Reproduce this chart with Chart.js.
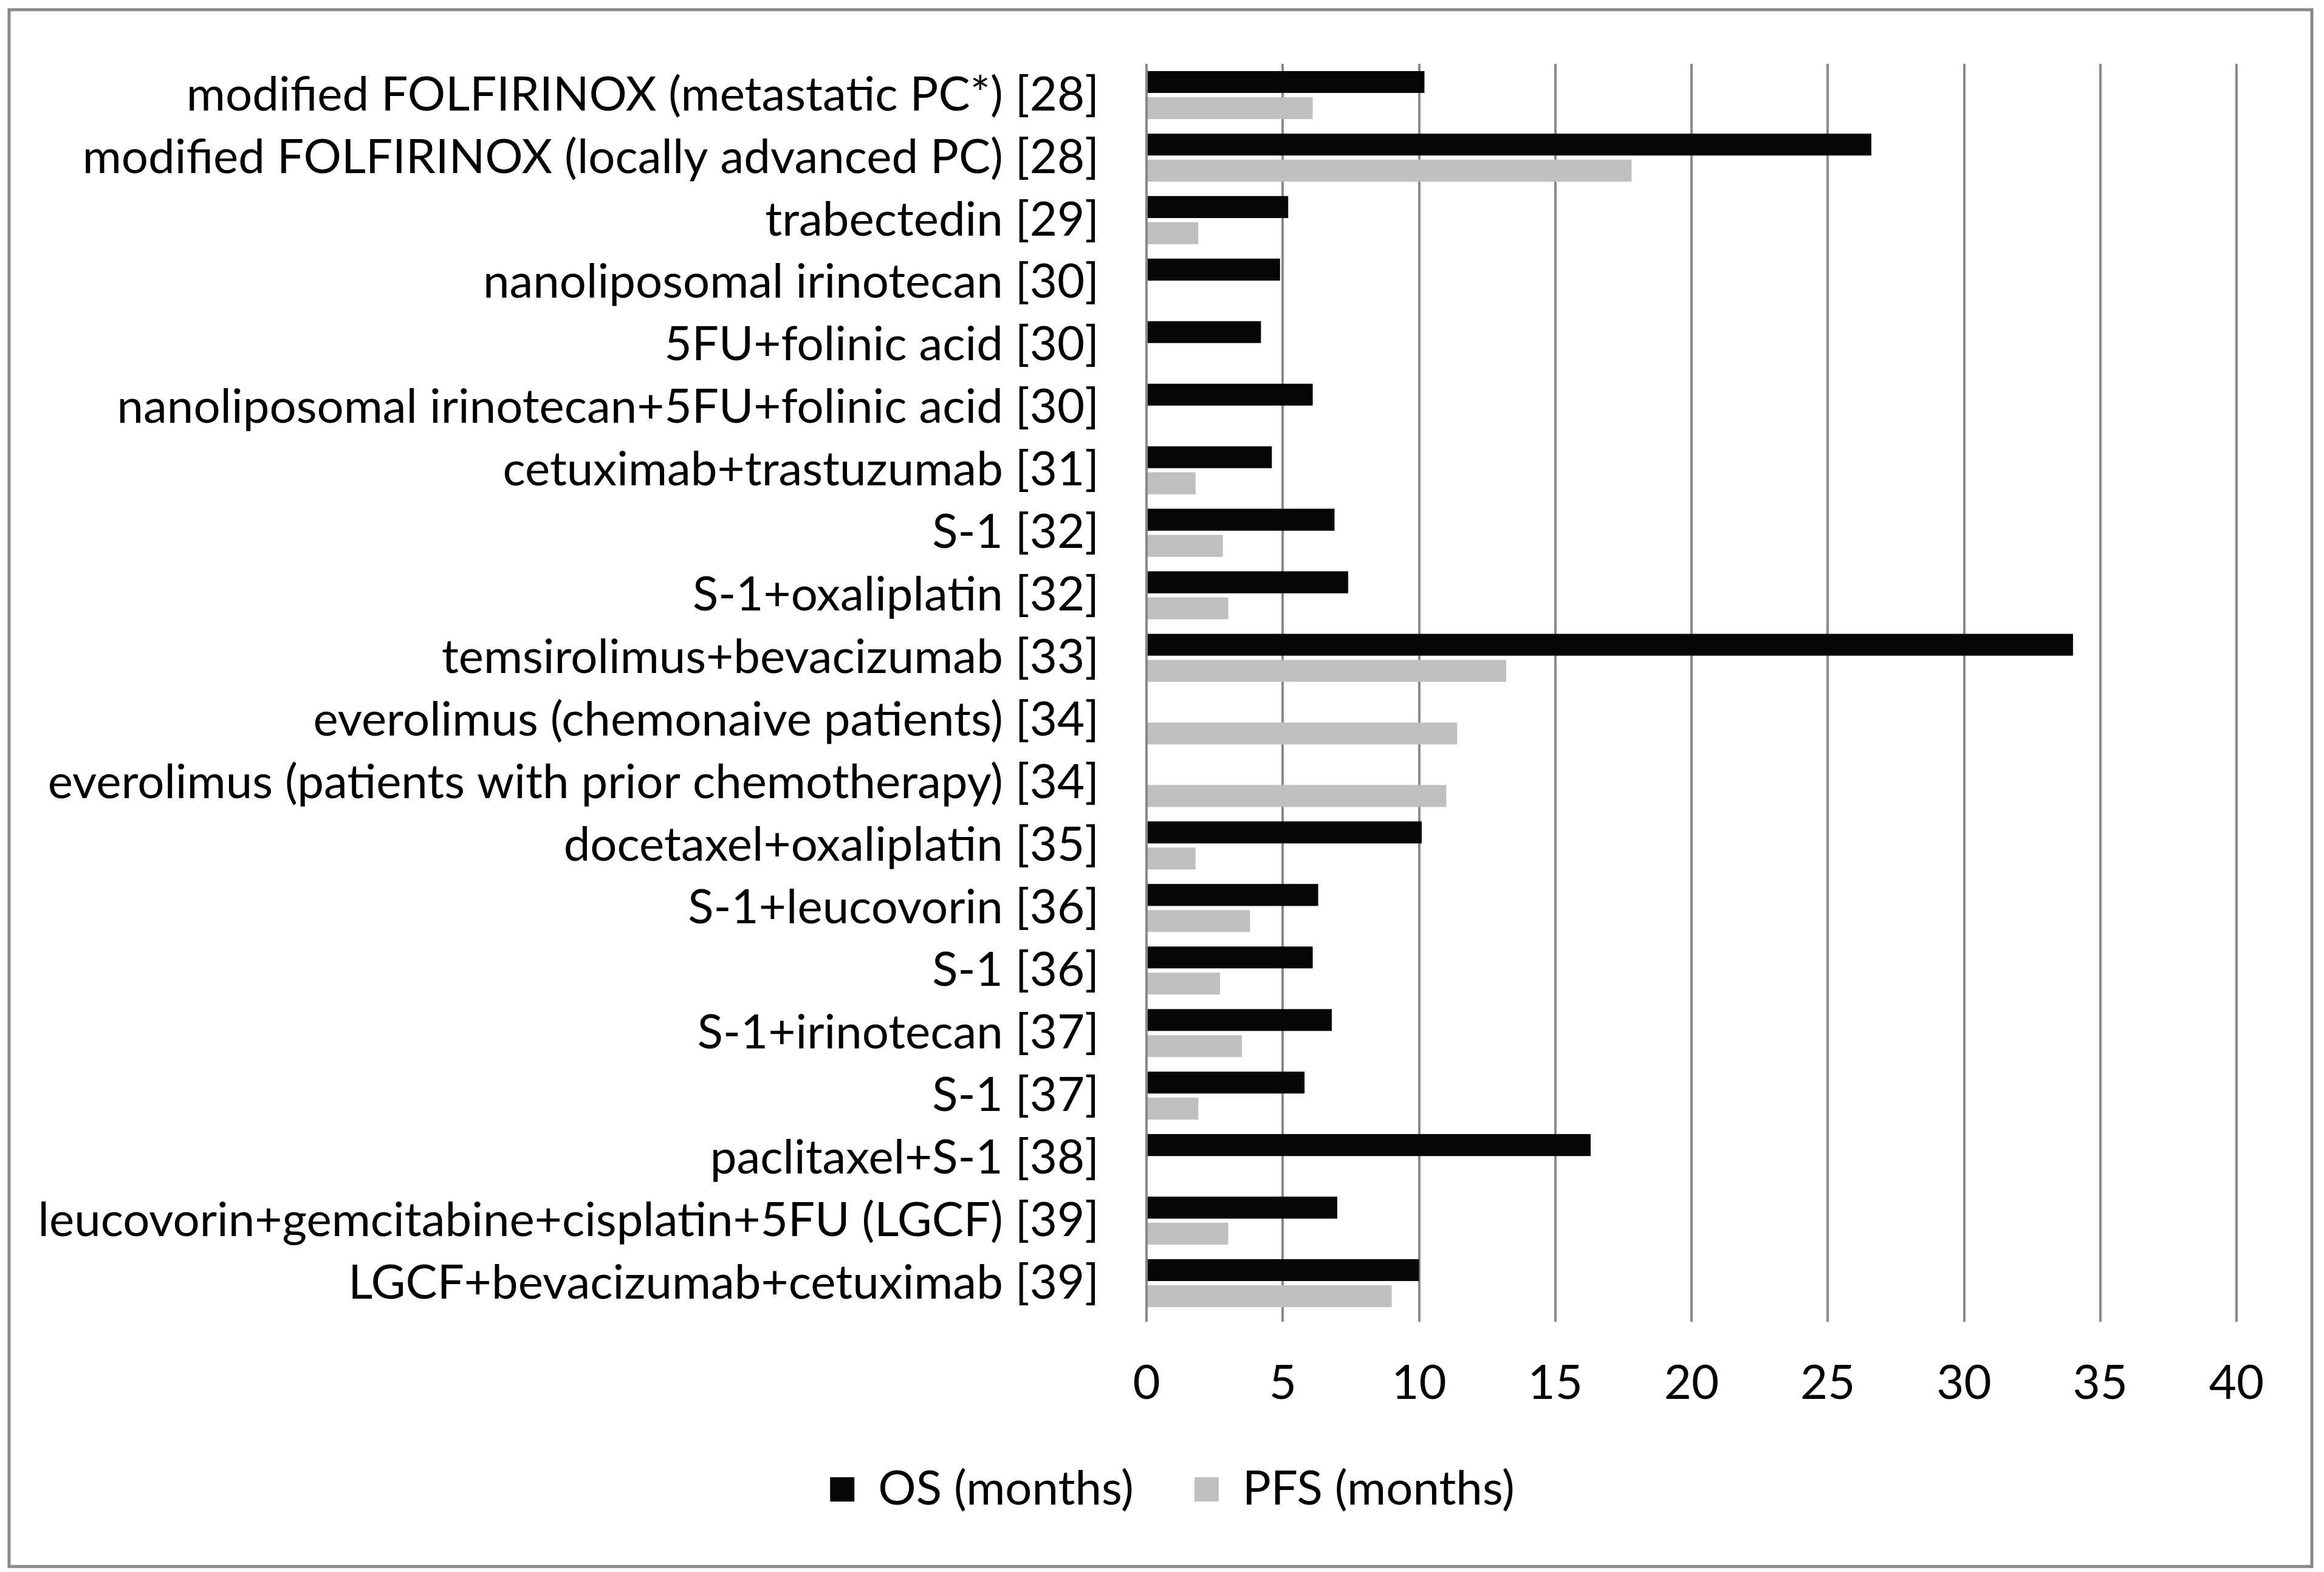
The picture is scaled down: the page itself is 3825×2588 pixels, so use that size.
<!DOCTYPE html>
<html>
<head>
<meta charset="utf-8">
<script src="https://cdn.jsdelivr.net/npm/chart.js@4.4.1/dist/chart.umd.min.js"></script>
<style>
  html, body { margin: 0; padding: 0; background: #ffffff; }
  #chart { display: block; }
</style>
</head>
<body>
<canvas id="chart" width="3825" height="2588"></canvas>
<script>
const categories = [
    'modified FOLFIRINOX (metastatic PC*) [28]',
    'modified FOLFIRINOX (locally advanced PC) [28]',
    'trabectedin [29]',
    'nanoliposomal irinotecan [30]',
    '5FU+folinic acid [30]',
    'nanoliposomal irinotecan+5FU+folinic acid [30]',
    'cetuximab+trastuzumab [31]',
    'S-1 [32]',
    'S-1+oxaliplatin [32]',
    'temsirolimus+bevacizumab [33]',
    'everolimus (chemonaive patients) [34]',
    'everolimus (patients with prior chemotherapy) [34]',
    'docetaxel+oxaliplatin [35]',
    'S-1+leucovorin [36]',
    'S-1 [36]',
    'S-1+irinotecan [37]',
    'S-1 [37]',
    'paclitaxel+S-1 [38]',
    'leucovorin+gemcitabine+cisplatin+5FU (LGCF) [39]',
    'LGCF+bevacizumab+cetuximab [39]'
];

const os_months = [10.2, 26.6, 5.2, 4.9, 4.2, 6.1, 4.6, 6.9, 7.4, 34.0,
                   null, null, 10.1, 6.3, 6.1, 6.8, 5.8, 16.3, 7.0, 10.0];

const pfs_months = [6.1, 17.8, 1.9, null, null, null, 1.8, 2.8, 3.0, 13.2,
                    11.4, 11.0, 1.8, 3.8, 2.7, 3.5, 1.9, null, 3.0, 9.0];

const series_names = ['OS (months)', 'PFS (months)'];
const x_ticks = [0, 5, 10, 15, 20, 25, 30, 35, 40];

const font_family = 'Lato, "Open Sans", sans-serif';
const font_size = 78;
const grid_gray = '#898989';

// white page + outer gray frame, and nudge the legend to sit under the plot
const framePlugin = {
    id: 'frame',
    afterLayout(chart) {
        chart.legend.left += 69;
        chart.legend.right += 69;
    },
    beforeDraw(chart) {
        const ctx = chart.ctx;
        ctx.save();
        ctx.fillStyle = '#ffffff';
        ctx.fillRect(0, 0, chart.width, chart.height);
        ctx.strokeStyle = grid_gray;
        ctx.lineWidth = 5;
        ctx.strokeRect(15, 16, 3790, 2563);
        ctx.restore();
    }
};

const chart = new Chart('chart', {
    type: 'bar',
    data: {
        labels: categories,
        datasets: [
            {
                label: series_names[0],
                data: os_months,
                backgroundColor: '#070707',
                borderWidth: 0
            },
            {
                label: series_names[1],
                data: pfs_months,
                backgroundColor: '#bfbfbf',
                borderWidth: 0
            }
        ]
    },
    options: {
        indexAxis: 'y',
        responsive: false,
        animation: false,
        devicePixelRatio: 1,
        categoryPercentage: 0.835,
        barPercentage: 0.84,
        layout: {
            padding: { left: 40, right: 144, top: 105, bottom: 87 }
        },
        plugins: {
            legend: {
                position: 'bottom',
                labels: {
                    color: '#000000',
                    boxWidth: 40,
                    boxHeight: 40,
                    padding: 100,
                    font: { family: font_family, size: font_size }
                }
            },
            tooltip: { enabled: false }
        },
        scales: {
            x: {
                min: 0,
                max: 40,
                afterBuildTicks: (scale) => {
                    scale.ticks = x_ticks.map(v => ({ value: v }));
                },
                afterFit: (scale) => {
                    scale.height = 149;
                },
                grid: {
                    color: grid_gray,
                    lineWidth: 4,
                    tickLength: 12,
                    drawTicks: true
                },
                border: { display: false },
                ticks: {
                    color: '#000000',
                    padding: 55,
                    maxRotation: 0,
                    font: { family: font_family, size: font_size }
                }
            },
            y: {
                afterFit: (scale) => {
                    scale.width = 1847;
                    scale.paddingTop = 0;
                    scale.paddingBottom = 0;
                },
                grid: { display: false, drawTicks: false },
                border: { display: false },
                ticks: {
                    color: '#000000',
                    padding: 78,
                    autoSkip: false,
                    font: { family: font_family, size: font_size }
                }
            }
        }
    },
    plugins: [framePlugin]
});
</script>
</body>
</html>
